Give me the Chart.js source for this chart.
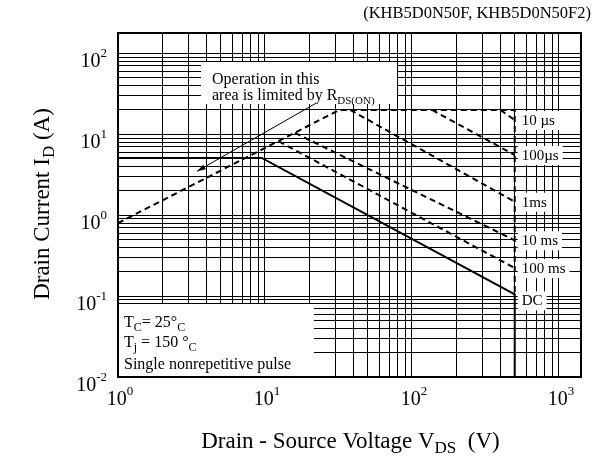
<!DOCTYPE html>
<html><head><meta charset="utf-8">
<script src="https://cdn.jsdelivr.net/npm/chart.js@4/dist/chart.umd.min.js"></script>
<style>html,body{margin:0;padding:0;background:#fff}</style>
</head><body>
<canvas id="c" width="597" height="461"></canvas>
<script>
// ---- data ----
const xDecades = [1, 10, 100, 1000];
const xExponents = ['0', '1', '2', '3'];
const yDecades = [0.01, 0.1, 1, 10, 100];
const yExponents = ['-2', '-1', '0', '1', '2'];

const limitV = [1, 32, 500, 500];      // RDS(on) limit + 20 A line + 500 V edge
const limitI = [0.8, 20, 20, 0.105];
const us10V = [400, 500];
const us10I = [20, 15];
const us100V = [137, 500];
const us100I = [20, 5.55];
const ms1V = [38, 500];
const ms1I = [20, 1.47];
const ms10V = [16, 500];
const ms10I = [10.4, 0.49];
const ms100V = [12.4, 500];
const ms100I = [8.2, 0.222];
const dcV = [1, 9.5, 500, 500];
const dcI = [5.1, 5.1, 0.105, 0.01];

const curveLabels = ['10 \u00b5s', '100\u00b5s', '1ms', '10 ms', '100 ms', 'DC'];
const arrowV = [22, 3.45];
const arrowI = [24, 3.5];

const FONT = "'Liberation Serif','Times New Roman',serif";

function pts(xs, ys) { return xs.map((x, i) => ({x, y: ys[i]})); }
function gridValues(decs) {
  const out = [];
  decs.forEach(d => { for (let k = 1; k <= 9; k++) out.push(+(d * k).toPrecision(3)); });
  return out;
}

function richWidth(ctx, parts) {
  let w = 0;
  parts.forEach(p => { ctx.font = p[1] + 'px ' + FONT; w += ctx.measureText(p[0]).width; });
  return w;
}
function drawRich(ctx, x, y, parts, align) {
  const w = richWidth(ctx, parts);
  let cx = align === 'right' ? x - w : align === 'center' ? x - w / 2 : x;
  ctx.textBaseline = 'alphabetic';
  ctx.textAlign = 'left';
  parts.forEach(p => {
    ctx.font = p[1] + 'px ' + FONT;
    ctx.fillText(p[0], cx, y + (p[2] || 0));
    cx += ctx.measureText(p[0]).width;
  });
  return w;
}

const dash = [6, 4];
const datasets = [
  {data: pts(limitV, limitI), borderDash: dash},
  {data: pts(us10V, us10I), borderDash: dash},
  {data: pts(us100V, us100I), borderDash: dash},
  {data: pts(ms1V, ms1I), borderDash: dash},
  {data: pts(ms10V, ms10I), borderDash: dash},
  {data: pts(ms100V, ms100I), borderDash: dash},
  {data: pts(dcV, dcI), borderDash: []}
].map(d => Object.assign({showLine: true, pointRadius: 0, borderColor: '#000', borderWidth: 2, fill: false}, d));

function labelY(y, i) {
  const ends = [us10I, us100I, ms1I, ms10I, ms100I, dcI];
  return i === 5 ? y.getPixelForValue(dcI[2]) + 6 : y.getPixelForValue(ends[i][ends[i].length - 1]);
}

const boxesPlugin = {
  id: 'boxes',
  beforeDatasetsDraw(chart) {
    const {ctx, chartArea: a, scales: {x, y}} = chart;
    ctx.save();
    ctx.fillStyle = '#fff';
    ctx.fillRect(a.left + 83, a.top + 29, 196, 42);
    ctx.fillRect(a.left + 1, a.bottom - 73, 195, 72);
    const lx = x.getPixelForValue(500) + 3;
    ctx.font = '15px ' + FONT;
    curveLabels.forEach((t, i) => {
      const yy = labelY(y, i);
      const w = ctx.measureText(t).width;
      const wEnd = i === 0 ? a.right - 1 - lx : w + 8;
      ctx.fillRect(lx, yy - 9, wEnd, 19);
    });
    ctx.restore();
  },
  afterDatasetsDraw(chart) {
    const {ctx, chartArea: a, scales: {x, y}} = chart;
    ctx.save();
    ctx.fillStyle = '#000';
    ctx.strokeStyle = '#000';
    ctx.lineWidth = 2;
    ctx.strokeRect(a.left, a.top, a.right - a.left, a.bottom - a.top);
    const lx = x.getPixelForValue(500) + 7;
    curveLabels.forEach((t, i) => {
      drawRich(ctx, lx, labelY(y, i) + 5, [[t, 15]], 'left');
    });
    // annotation text
    drawRich(ctx, a.left + 94, a.top + 51, [['Operation in this', 16]], 'left');
    drawRich(ctx, a.left + 94, a.top + 67, [['area is limited by R', 16], ['DS(ON)', 11, 4]], 'left');
    // arrow
    const x1 = x.getPixelForValue(arrowV[0]), y1 = y.getPixelForValue(arrowI[0]);
    const x2 = x.getPixelForValue(arrowV[1]), y2 = y.getPixelForValue(arrowI[1]);
    ctx.lineWidth = 1;
    ctx.beginPath(); ctx.moveTo(x1, y1); ctx.lineTo(x2, y2); ctx.stroke();
    const ang = Math.atan2(y2 - y1, x2 - x1);
    ctx.beginPath();
    ctx.moveTo(x2, y2);
    ctx.lineTo(x2 - 9 * Math.cos(ang - 0.3), y2 - 9 * Math.sin(ang - 0.3));
    ctx.lineTo(x2 - 9 * Math.cos(ang + 0.3), y2 - 9 * Math.sin(ang + 0.3));
    ctx.closePath(); ctx.fill();
    // conditions
    const bx = a.left + 6;
    drawRich(ctx, bx, a.bottom - 50, [['T', 16], ['C', 12, 4], ['= 25', 16], ['\u00b0', 16], ['C', 12, 4]], 'left');
    drawRich(ctx, bx, a.bottom - 30, [['T', 16], ['j', 12, 4], [' = 150 ', 16], ['\u00b0', 16], ['C', 12, 4]], 'left');
    drawRich(ctx, bx, a.bottom - 8, [['Single nonrepetitive pulse', 16]], 'left');
    // tick labels
    xDecades.forEach((v, i) => {
      drawRich(ctx, x.getPixelForValue(v) + 2, a.bottom + 28, [['10', 20], [xExponents[i], 13, -10]], 'center');
    });
    yDecades.forEach((v, i) => {
      drawRich(ctx, a.left - 11, y.getPixelForValue(v) + 14, [['10', 20], [yExponents[i], 13, -10]], 'right');
    });
    // axis titles
    drawRich(ctx, (a.left + a.right) / 2 + 1, 448, [['Drain - Source Voltage V', 23], ['DS', 17, 5], ['  (V)', 23]], 'center');
    ctx.save();
    ctx.translate(49, 204);
    ctx.rotate(-Math.PI / 2);
    drawRich(ctx, 0, 0, [['Drain Current I', 23], ['D', 17, 5], [' (A)', 23]], 'center');
    ctx.restore();
    // title
    drawRich(ctx, 591, 18, [['(KHB5D0N50F, KHB5D0N50F2)', 16.5]], 'right');
    ctx.restore();
  }
};

new Chart(document.getElementById('c'), {
  type: 'scatter',
  data: {datasets},
  options: {
    responsive: false,
    animation: false,
    devicePixelRatio: 1,
    layout: {padding: {left: 118, right: 16, top: 33, bottom: 84}},
    plugins: {legend: {display: false}, tooltip: {enabled: false}},
    scales: {
      x: {
        type: 'logarithmic', min: 1, max: 1412,
        afterBuildTicks: s => { s.ticks = gridValues(xDecades).filter(v => v <= 1412).map(v => ({value: v})); },
        ticks: {display: false},
        grid: {color: '#000', lineWidth: 1, drawTicks: false},
        border: {display: false}
      },
      y: {
        type: 'logarithmic', min: 0.01, max: 179,
        afterBuildTicks: s => { s.ticks = gridValues(yDecades).filter(v => v <= 179).map(v => ({value: v})); },
        ticks: {display: false},
        grid: {color: '#000', lineWidth: 1, drawTicks: false},
        border: {display: false}
      }
    }
  },
  plugins: [boxesPlugin]
});
</script>
</body></html>
